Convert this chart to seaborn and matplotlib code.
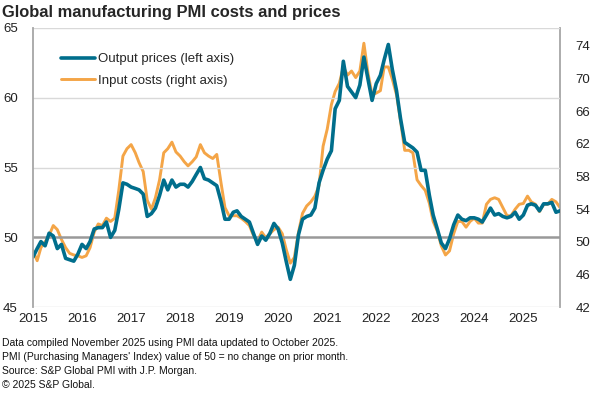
import pandas as pd
import seaborn as sns
import matplotlib.pyplot as plt
import matplotlib.dates as mdates

# monthly, Jan 2015 - Oct 2025
months = pd.date_range("2015-01-01", "2025-10-01", freq="MS")

# Output prices index (left axis)
output_prices = [
    48.6, 49.2, 49.7, 49.4, 50.3, 50.1, 49.2, 49.5, 48.5, 48.4, 48.3, 48.8,
    49.5, 49.2, 49.7, 50.6, 50.7, 50.7, 51.1, 50.0, 50.5, 52.0, 53.9, 53.8,
    53.6, 53.5, 53.4, 53.1, 51.5, 51.7, 52.1, 53.0, 54.1, 53.4, 54.1, 53.6,
    53.8, 53.8, 53.6, 54.0, 54.5, 55.0, 54.2, 54.1, 53.9, 53.7, 52.6, 51.3,
    51.3, 51.8, 51.9, 51.5, 51.3, 51.1, 50.3, 49.5, 50.1, 49.8, 50.3, 51.0,
    50.6, 49.6, 48.3, 47.0, 48.0, 50.2, 51.3, 51.5, 51.6, 52.1, 53.9, 54.8,
    55.6, 56.2, 59.2, 59.8, 62.6, 60.8, 60.4, 60.0, 60.9, 62.9, 61.3, 59.8,
    61.0, 61.6, 62.7, 63.8, 62.0, 60.5, 58.5, 56.8, 56.6, 56.4, 56.1, 54.8,
    54.8, 53.0, 51.6, 50.6, 49.6, 49.2, 49.9, 50.9, 51.6, 51.3, 51.2, 51.4,
    51.4, 51.3, 51.1, 51.6, 52.1, 51.6, 51.7, 51.5, 51.4, 51.5, 51.8, 51.3,
    51.6, 52.3, 52.4, 52.3, 51.9, 52.4, 52.4, 52.5, 51.8, 51.9,
]

# Input costs index (right axis)
input_costs = [
    48.9, 47.7, 49.3, 50.0, 50.8, 52.0, 51.5, 50.3, 49.3, 48.6, 48.4, 48.3,
    48.1, 48.3, 49.3, 51.2, 52.2, 52.0, 52.9, 52.5, 52.9, 56.3, 60.5, 61.4,
    61.9, 60.9, 59.7, 58.6, 55.1, 54.0, 55.4, 57.6, 60.9, 61.4, 62.2, 61.0,
    60.5, 59.8, 59.3, 59.8, 60.4, 61.9, 60.9, 60.5, 60.2, 60.7, 57.3, 54.2,
    53.2, 53.2, 53.2, 52.9, 52.5, 52.0, 50.8, 50.1, 51.2, 50.5, 51.0, 51.5,
    51.8, 51.0, 49.1, 47.4, 48.1, 51.2, 53.5, 54.4, 54.9, 55.6, 56.9, 61.7,
    63.8, 66.8, 68.4, 69.4, 71.4, 70.4, 70.9, 70.1, 70.9, 74.3, 70.6, 68.0,
    68.2, 68.5, 71.4, 71.4, 69.9, 68.0, 64.8, 61.2, 61.2, 60.9, 57.6, 56.9,
    56.3, 54.7, 52.5, 51.3, 49.5, 48.4, 48.9, 51.0, 52.5, 52.5, 51.8, 52.5,
    52.9, 52.3, 52.3, 54.6, 55.2, 55.4, 55.2, 54.2, 53.2, 53.2, 54.0, 54.6,
    54.7, 55.6, 54.9, 54.6, 53.7, 54.6, 54.6, 55.2, 54.9, 54.2,
]

left_ticks = [45, 50, 55, 60, 65]
right_ticks = [42, 46, 50, 54, 58, 62, 66, 70, 74]

footnotes = [
    "Data compiled November 2025 using PMI data updated to October 2025.",
    "PMI (Purchasing Managers' Index) value of 50 = no change on prior month.",
    "Source: S&P Global PMI with J.P. Morgan.",
    "\u00a9 2025 S&P Global.",
]

df = pd.DataFrame({"date": months, "output": output_prices, "input": input_costs})

sns.set_theme(style="white")
plt.rcParams["font.family"] = ["Liberation Sans", "DejaVu Sans"]

teal = "#006E8C"
orange = "#F4A547"
grid_c = "#D9D9D9"
axis_c = "#A6A6A6"

fig = plt.figure(figsize=(5.91, 3.97), dpi=100)
ax = fig.add_axes([33 / 591, 1 - 307.3 / 397, 527 / 591, 279.6 / 397])
ax2 = ax.twinx()

sns.lineplot(data=df, x="date", y="output", ax=ax, color=teal, linewidth=2.6,
             label="Output prices (left axis)", legend=False)
sns.lineplot(data=df, x="date", y="input", ax=ax2, color=orange, linewidth=2.1,
             label="Input costs (right axis)", legend=False)

ax.set_ylim(45, 65)
ax2.set_ylim(42, 76.2)
ax.set_xlim(months[0], months[-1])
ax.set_yticks(left_ticks)
ax2.set_yticks(right_ticks)

for v in [45, 55, 60, 65]:
    ax.axhline(v, color=grid_c, linewidth=1.0, zorder=0)
ax.axhline(50, color="#999999", linewidth=1.8, zorder=1)

ax.xaxis.set_major_locator(mdates.YearLocator())
ax.xaxis.set_major_formatter(mdates.DateFormatter("%Y"))

for a in (ax, ax2):
    a.set_xlabel("")
    a.set_ylabel("")
    for s in a.spines.values():
        s.set_visible(False)
    a.tick_params(length=0, labelsize=9.5, colors="#222222")
ax2.spines["right"].set_visible(True)
ax2.spines["right"].set_color(axis_c)
ax2.spines["right"].set_linewidth(1.3)
ax.spines["left"].set_visible(True)
ax.spines["left"].set_color(axis_c)
ax.spines["left"].set_linewidth(1.3)
ax.tick_params(axis="y", pad=11)
ax2.tick_params(axis="y", pad=11)
ax.tick_params(axis="x", pad=4)

ax.set_zorder(ax2.get_zorder() + 1)
ax.patch.set_visible(False)

h1, l1 = ax.get_legend_handles_labels()
h2, l2 = ax2.get_legend_handles_labels()
ax.legend(h1 + h2, l1 + l2, loc="upper left", bbox_to_anchor=(61 / 591, 1 - 53 / 397),
          bbox_transform=fig.transFigure, frameon=False, fontsize=9.5,
          handlelength=2.6, handletextpad=0.2, labelspacing=0.72, borderpad=0,
          borderaxespad=0)

fig.text(2 / 591, 1 - 12 / 397, "Global manufacturing PMI costs and prices",
         fontsize=11.9, fontweight="bold", va="center", ha="left")
for k, line in enumerate(footnotes):
    fig.text(2 / 591, 1 - (343 + 14 * k) / 397, line, fontsize=7.5,
             va="center", ha="left", color="#111111")

fig.savefig("out.png", dpi=100)
